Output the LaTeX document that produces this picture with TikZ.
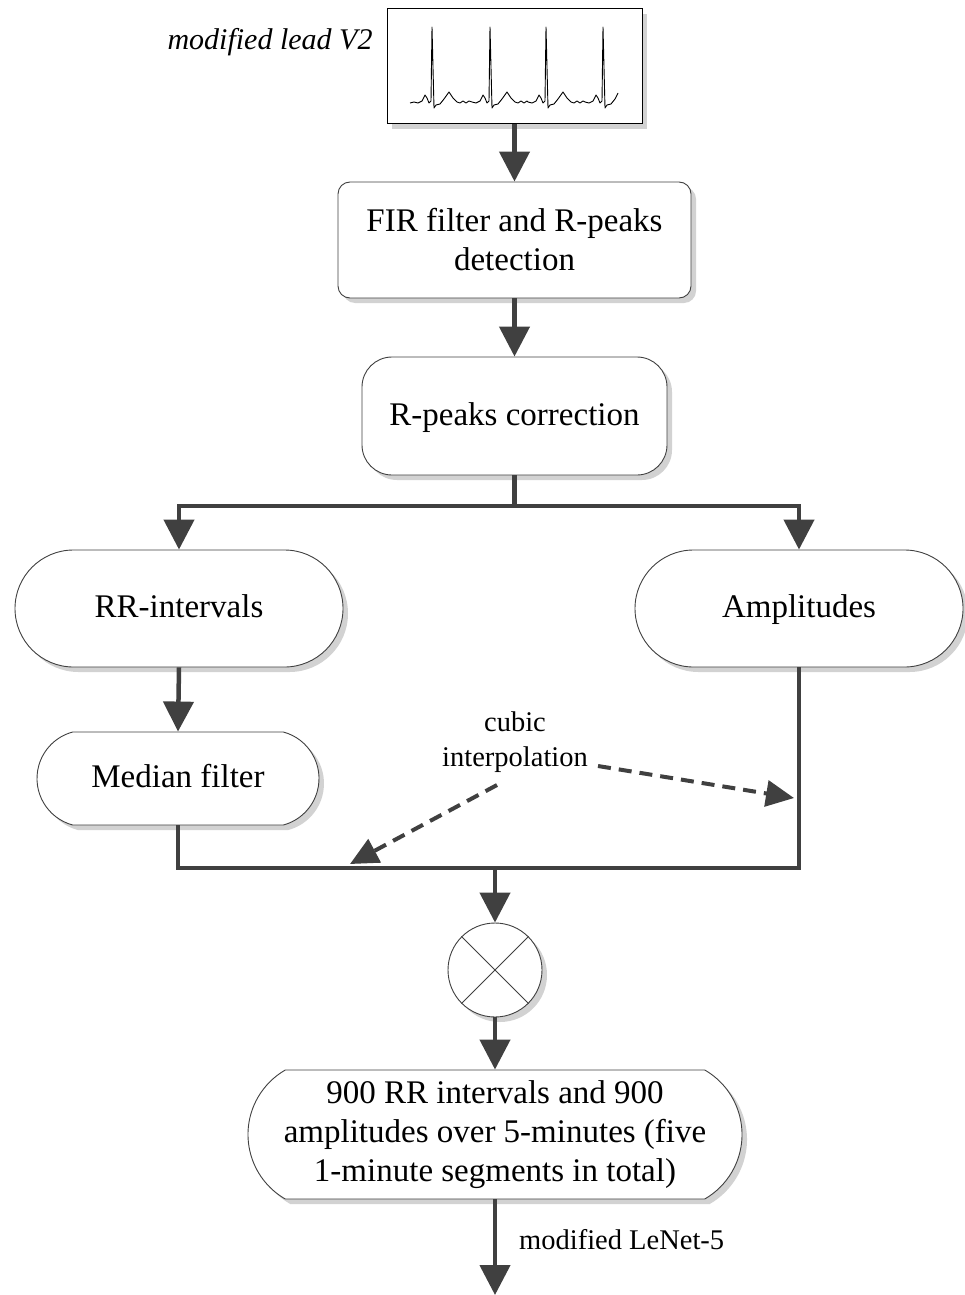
\documentclass[tikz,border=0pt]{standalone}
\usepackage{fontspec}
\setmainfont{Liberation Serif}
\usetikzlibrary{arrows.meta,shapes.misc,shadows,calc}
\definecolor{lc}{HTML}{404040}
\definecolor{sh}{HTML}{D2D2D2}
\begin{document}
\begin{tikzpicture}[x=1pt,y=-1pt,
  boxshadow/.style={drop shadow={shadow xshift=5pt,shadow yshift=-5pt,fill=sh,opacity=1}},
  base/.style={draw=lc,line width=0.9pt,fill=white,boxshadow,align=center,inner sep=0pt,font=\fontsize{33}{39}\selectfont},
  oneline/.style={text height=22pt,text depth=4pt},
  rbox/.style={base,rectangle,rounded corners=#1},
  pill/.style={base,rounded rectangle,rounded rectangle arc length=#1},
  conn/.style={draw=lc,line width=4.5pt,-{Triangle[length=30pt,width=30pt]}},
  line/.style={draw=lc,line width=4.5pt},
  dconn/.style={draw=lc,line width=4pt,dash pattern=on 13pt off 8pt,-{Triangle[length=28pt,width=26pt]}},
  lbl/.style={font=\fontsize{28.5}{35}\selectfont,align=center,inner sep=0pt}
]
\useasboundingbox (0,0) rectangle (964,1295);

% ECG box
\node[rectangle,draw=black,line width=1pt,fill=white,boxshadow,minimum width=255pt,minimum height=115pt,inner sep=0pt] (ecg) at (514.5,66.5) {};
\draw[black,line width=0.9pt,line join=round]
  (410,103) foreach \p in {432,490,546} {
    -- ({\p-18},102) -- ({\p-14},103) -- ({\p-10},101) -- ({\p-7},95) -- ({\p-5},98)
    -- ({\p-3},103) -- ({\p-1},101) -- (\p,27) -- ({\p+2},108) -- ({\p+4},105)
    -- ({\p+8},104) -- ({\p+12},99) -- ({\p+17},92) -- ({\p+21},98) -- ({\p+25},102)
    -- ({\p+28},103) -- ({\p+31},101) -- ({\p+34},103) -- ({\p+37},101)
  }
  -- (585,102) -- (589,103) -- (593,101) -- (596,95) -- (598,98) -- (600,103) -- (602,101)
  -- (603,27) -- (605,108) -- (607,105) -- (611,104) -- (615,99) -- (618,93);
\node[font=\fontsize{30}{36}\selectfont\itshape,inner sep=0pt] (lead) at (270,42) {modified lead V2};

% boxes
\node[rbox=12pt,minimum width=353pt,minimum height=116pt] (fir) at (514.5,240) {FIR filter and R-peaks\\detection};
\node[rbox=30pt,oneline,minimum width=305pt,minimum height=118pt] (rpc) at (514.5,416) {R-peaks correction};
\node[pill=180,oneline,minimum width=328pt,minimum height=117pt] (rr) at (179,608.5) {RR-intervals};
\node[pill=180,oneline,minimum width=328pt,minimum height=117pt] (amp) at (799,608.5) {Amplitudes};
\node[pill=150,oneline,minimum width=282pt,minimum height=93pt] (med) at (178,778.5) {Median filter};
\node[circle,draw=lc,line width=0.9pt,fill=white,boxshadow,minimum size=94pt,inner sep=0pt] (mul) at (495,970) {};
\draw[lc,line width=0.8pt] (mul.45) -- (mul.225) (mul.135) -- (mul.315);
\node[pill=120,minimum width=494pt,minimum height=129pt] (fin) at (495,1134.5) {900 RR intervals and 900\\amplitudes over 5-minutes (five\\1-minute segments in total)};

% connectors
\coordinate (split) at (514.5,506);
\coordinate (join) at (495,868);
\coordinate (out) at (495,1295);
\draw[conn] (ecg.south) -- (fir.north);
\draw[conn] (fir.south) -- (rpc.north);
\draw[line] (rpc.south) -- (split);
\draw[conn] (split) -| (rr.north);
\draw[conn] (split) -| (amp.north);
\draw[conn] (rr.south) -- (med.north);
\draw[line] (med.south) |- (join);
\draw[line] (amp.south) |- (join);
\draw[conn] (join) -- (mul.north);
\draw[conn] (mul.south) -- (fin.north);
\draw[conn] (fin.south) -- (out);
\node[lbl,anchor=west] (lenet) at (519,1240) {modified LeNet-5};

% cubic interpolation
\node[lbl] (cubic) at (515,742) {cubic\\interpolation};
\coordinate (d1s) at (497,785);
\coordinate (d1e) at (350,864);
\coordinate (d2s) at (598,766);
\coordinate (d2e) at (794,798);
\draw[dconn] (d1s) -- (d1e);
\draw[dconn] (d2s) -- (d2e);
\end{tikzpicture}
\end{document}
